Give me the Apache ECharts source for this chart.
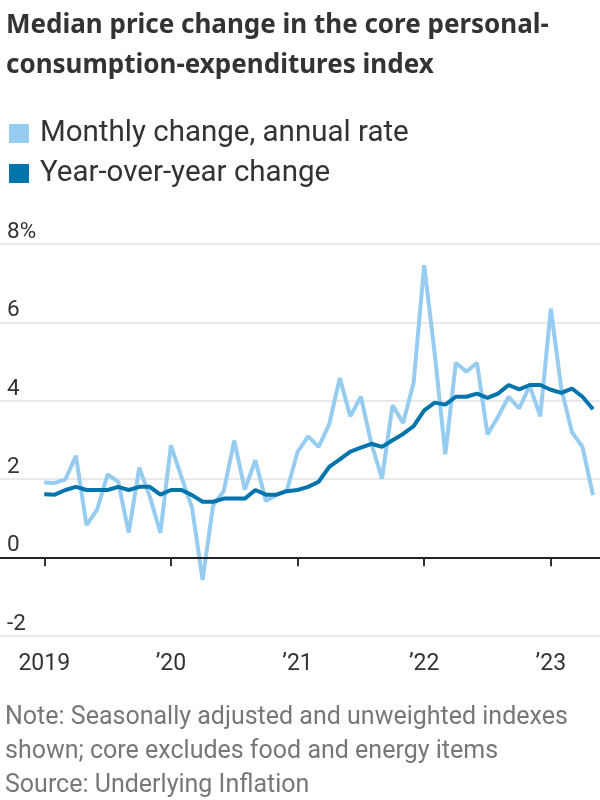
<!DOCTYPE html>
<html>
<head>
<meta charset="utf-8">
<style>html,body{margin:0;padding:0;background:#fff}#c{width:600px;height:800px}</style>
<script src="https://cdn.jsdelivr.net/npm/echarts@6/dist/echarts.min.js"></script>
</head>
<body>
<div id="c"></div>
<script>
// Months since Jan 2019 (0 = Jan 2019 ... 52 = May 2023)
var monthly = [1.91,1.9,1.99,2.59,0.82,1.22,2.12,1.93,0.63,2.29,1.55,0.63,
  2.86,2.05,1.27,-0.58,1.33,1.69,2.98,1.73,2.48,1.44,1.59,1.72,
  2.69,3.09,2.82,3.4,4.58,3.6,4.1,2.9,2.01,3.88,3.43,4.46,
  7.46,5.2,2.63,4.97,4.74,4.97,3.14,3.59,4.1,3.8,4.38,3.6,
  6.35,4.3,3.2,2.82,1.59];
var yoy = [1.61,1.6,1.72,1.8,1.72,1.72,1.72,1.8,1.72,1.8,1.8,1.6,
  1.72,1.72,1.59,1.42,1.42,1.5,1.5,1.5,1.72,1.6,1.6,1.69,
  1.72,1.8,1.93,2.31,2.5,2.7,2.8,2.9,2.82,2.99,3.15,3.35,
  3.75,3.95,3.9,4.1,4.1,4.18,4.07,4.18,4.4,4.29,4.4,4.4,
  4.28,4.2,4.31,4.1,3.78];
var tickMonths = [0, 12, 24, 36, 48];
var tickLabels = ['2019', '\u201920', '\u201921', '\u201922', '\u201923'];
var seriesNames = ['Monthly change, annual rate', 'Year-over-year change'];

function pairs(arr){ return arr.map(function(v,i){ return [i, v]; }); }

var FONT = 'Roboto, "Noto Sans", sans-serif';
var TFONT = '"Noto Sans", "Open Sans", sans-serif';
var chart = echarts.init(document.getElementById('c'));
chart.setOption({
  animation: false,
  textStyle: { fontFamily: FONT },
  title: [{
    text: 'Median price change in the core personal-\nconsumption-expenditures index',
    left: 1, top: 1,
    textStyle: { fontSize: 26, fontWeight: 'bold', color: '#333', lineHeight: 40, fontFamily: TFONT }
  }, {
    text: 'Note: Seasonally adjusted and unweighted indexes\nshown; core excludes food and energy items\nSource: Underlying Inflation',
    left: 0, top: 696,
    textStyle: { fontSize: 25, fontWeight: 'normal', color: '#777', lineHeight: 34, fontFamily: FONT }
  }],
  legend: {
    orient: 'vertical', left: 4, top: 108.5,
    itemWidth: 20, itemHeight: 19, itemGap: 0,
    icon: 'rect',
    data: seriesNames,
    textStyle: { fontSize: 29.5, color: '#333', lineHeight: 40, padding: [0,0,0,6], fontFamily: FONT }
  },
  grid: { left: 0, right: 0, top: 244, bottom: 164.3 },
  xAxis: {
    type: 'value',
    min: -4.198, max: 52.66,
    axisLine: { show: false },
    splitLine: { show: false },
    axisTick: { show: true, customValues: tickMonths, length: 9, lineStyle: { color: '#333', width: 2 } },
    axisLabel: {
      customValues: tickMonths, margin: 17, fontSize: 23, color: '#333',
      formatter: function(v){ var i = tickMonths.indexOf(v); return i >= 0 ? tickLabels[i] : ''; }
    }
  },
  yAxis: {
    type: 'value', min: -2, max: 8, interval: 2,
    axisLine: { show: false }, axisTick: { show: false },
    splitLine: { lineStyle: { color: '#e2e2e2', width: 1.5 } },
    axisLabel: {
      inside: true, margin: 7, verticalAlign: 'bottom', fontSize: 22.5, color: '#333',
      formatter: function(v){ return v === 8 ? '8%' : String(v); }
    }
  },
  series: [{
    name: seriesNames[0], type: 'line', data: pairs(monthly),
    showSymbol: false, color: '#95CCEF',
    lineStyle: { width: 4, color: '#95CCEF' },
    markLine: {
      silent: true, symbol: 'none', label: { show: false },
      lineStyle: { color: '#222', width: 2, type: 'solid' },
      data: [{ yAxis: 0 }]
    },
    z: 2
  }, {
    name: seriesNames[1], type: 'line', data: pairs(yoy),
    showSymbol: false, color: '#0274AC',
    lineStyle: { width: 4, color: '#0274AC' },
    z: 3
  }]
});
</script>
</body>
</html>
